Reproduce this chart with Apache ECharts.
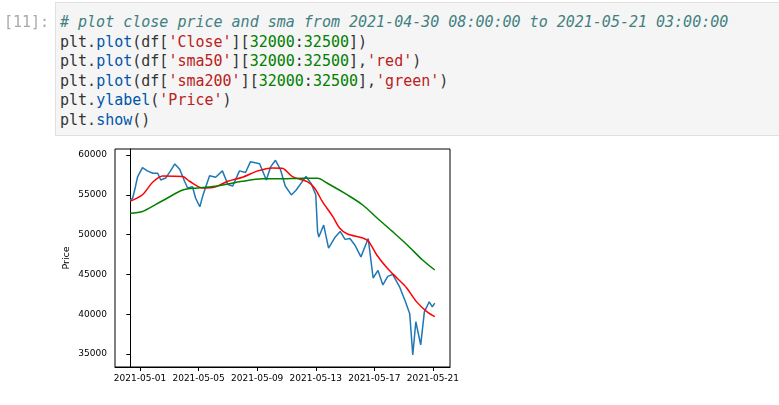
<!DOCTYPE html>
<html>
<head>
<meta charset="utf-8">
<script src="https://cdn.jsdelivr.net/npm/echarts@6/dist/echarts.min.js"></script>
<style>
body{margin:0;background:#fff;width:779px;height:405px;overflow:hidden;position:relative}
#chart{position:absolute;left:0;top:0;width:779px;height:405px}
#prompt{position:absolute;left:4px;top:13px;font:15px "DejaVu Sans Mono",monospace;color:#aaa}
#cell{position:absolute;left:55px;top:2px;width:730px;height:134px;background:#f5f5f5;border:1px solid #e0e0e0;box-sizing:border-box;z-index:2}
#cell pre{margin:0;padding:10px 0 0 4px;font:15px/19.6px "DejaVu Sans Mono",monospace;color:#333}
.c{color:#408080;font-style:italic}.s{color:#BA2121}.n{color:#008000}.b{color:#0055AA}
</style>
</head>
<body>
<div id="chart"></div>
<div id="prompt">[11]:</div>
<div id="cell"><pre><span class="c"># plot close price and sma from 2021-04-30 08:00:00 to 2021-05-21 03:00:00</span>
plt.<span class="b">plot</span>(df[<span class="s">'Close'</span>][<span class="n">32000</span>:<span class="n">32500</span>])
plt.<span class="b">plot</span>(df[<span class="s">'sma50'</span>][<span class="n">32000</span>:<span class="n">32500</span>],<span class="s">'red'</span>)
plt.<span class="b">plot</span>(df[<span class="s">'sma200'</span>][<span class="n">32000</span>:<span class="n">32500</span>],<span class="s">'green'</span>)
plt.<span class="b">ylabel</span>(<span class="s">'Price'</span>)
plt.<span class="b">show</span>()</pre></div>
<script>
// hours since 2021-04-30 08:00
var closeHours = [0,4,8,12,20,28,37,45,50,58,66,73,81,89,94,102,107,114,119,130,140,151,160,168,179,189,197,212,223,230,238,246,254,264,272,280,288,296,304,307,309,317,325,336,344,352,360,368,378,390,398,406,414,422,430,441,451,458,463,468,476,482,490,495,499];
var closeVals = [54300,54600,55850,57240,58400,58000,57700,57700,56860,57100,58000,58870,58200,56700,55850,56000,54600,53500,54900,57400,57200,58000,56300,56100,58000,57800,59160,58900,56850,58500,59330,58200,56100,54980,55600,56470,57300,56470,55000,50370,49700,51200,48300,49700,50400,49400,49500,48700,47200,49500,44550,45500,43670,44750,45000,43500,41560,40070,34880,39050,36140,40300,41560,40930,41400];
var sma50Hours = [0,20,37,53,86,97,119,135,160,184,209,233,249,266,290,302,315,332,343,356,381,391,404,421,437,453,469,486,499];
var sma50Vals = [54200,55000,56600,57370,57300,56700,55850,55900,56700,57200,58000,58370,58320,57270,56650,55850,54130,52250,50830,50070,49570,49100,47440,45800,44550,43300,41580,40320,39700];
var sma200Hours = [0,20,42,61,86,110,143,184,217,249,282,307,323,356,381,405,430,454,479,499];
var sma200Vals = [52680,52900,53800,54600,55600,55850,56100,56700,57000,57000,57070,57070,56450,54980,53720,52050,50370,48700,46800,45550];
var xTickHours = [16,112,208,304,400,496];
var xTickLabels = ['2021-05-01','2021-05-05','2021-05-09','2021-05-13','2021-05-17','2021-05-21'];
var yTicks = [35000,40000,45000,50000,55000,60000];

function pairs(h, v){ return h.map(function(x,i){ return [x, v[i]]; }); }

var myChart = echarts.init(document.getElementById('chart'));
option = {
	animation : false,
	grid : { left:115, right:329, top:149, bottom:38 },
	xAxis : {
		type : 'value', min : -25, max : 524,
		splitLine : { show:false },
		axisLine : { lineStyle:{ color:'#000' } },
		axisTick : { length:4, lineStyle:{ color:'#000' }, customValues: xTickHours },
		axisLabel : { fontFamily:'DejaVu Sans', fontSize:9, color:'#000', margin:7, customValues: xTickHours,
			formatter:function(v){ return xTickLabels[xTickHours.indexOf(v)] || ''; } }
	},
	yAxis : {
		type : 'value', min : 33370, max : 60750,
		name : 'Price', nameLocation : 'middle', nameGap : 43, nameRotate : 90,
		nameTextStyle : { fontFamily:'DejaVu Sans', fontSize:9.5, color:'#000' },
		splitLine : { show:false },
		axisLine : { show:true, lineStyle:{ color:'#000' } },
		axisTick : { show:true, length:4, lineStyle:{ color:'#000' }, customValues: yTicks },
		axisLabel : { fontFamily:'DejaVu Sans', fontSize:9, color:'#000', customValues: yTicks,
			formatter:function(v){ return String(v); } }
	},
	graphic : [{ type:'rect', shape:{ x:115, y:149, width:335, height:218 }, style:{ fill:'none', stroke:'#000', lineWidth:1 }, z:10 }],
	series : [
		{ type:'line', data:pairs(closeHours, closeVals), showSymbol:false, lineStyle:{ color:'#1f77b4', width:1.5 } },
		{ type:'line', data:pairs(sma50Hours, sma50Vals), showSymbol:false, smooth:0.3, lineStyle:{ color:'red', width:1.5 } },
		{ type:'line', data:pairs(sma200Hours, sma200Vals), showSymbol:false, smooth:0.3, lineStyle:{ color:'green', width:1.5 } }
	]
};
myChart.setOption(option);
</script>
</body>
</html>
